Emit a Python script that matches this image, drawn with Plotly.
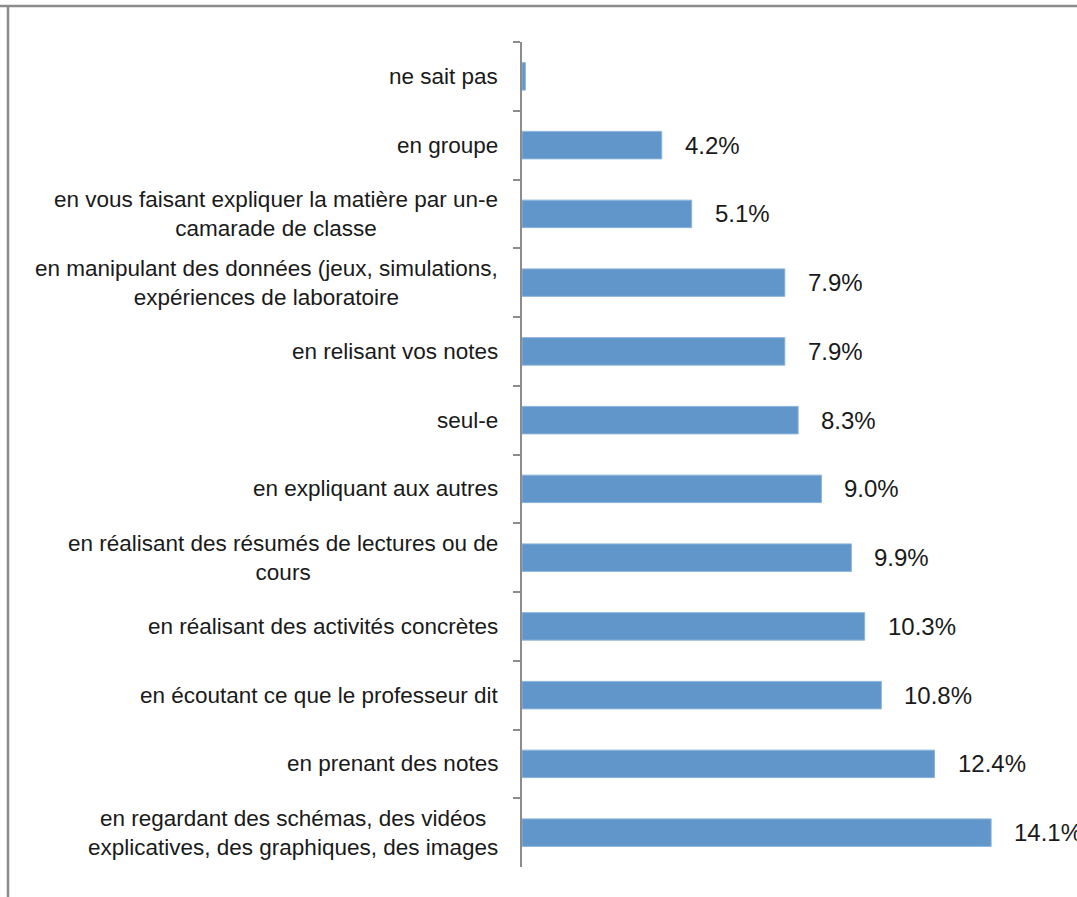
import plotly.graph_objects as go

categories = [
    "ne sait pas",
    "en groupe",
    "en vous faisant expliquer la matière par un-e<br>camarade de classe",
    "en manipulant des données (jeux, simulations,<br>expériences de laboratoire",
    "en relisant vos notes",
    "seul-e",
    "en expliquant aux autres",
    "en réalisant des résumés de lectures ou de<br>cours",
    "en réalisant des activités concrètes",
    "en écoutant ce que le professeur dit",
    "en prenant des notes",
    "en regardant des schémas, des vidéos<br>explicatives, des graphiques, des images",
]
values = [0.1, 4.2, 5.1, 7.9, 7.9, 8.3, 9.0, 9.9, 10.3, 10.8, 12.4, 14.1]
value_labels = ["", "4.2%", "5.1%", "7.9%", "7.9%", "8.3%", "9.0%", "9.9%",
                "10.3%", "10.8%", "12.4%", "14.1%"]

FONT = "Liberation Sans, Arial, sans-serif"
TXT = "#1a1a1a"
GRAY = "#8c8c8c"

fig = go.Figure(go.Bar(
    x=values, y=categories, orientation="h",
    marker=dict(color="#6096c9", line=dict(color="#8db4dc", width=1)),
    width=0.4, hoverinfo="skip",
))

ann = []
for c, v, lab in zip(categories, values, value_labels):
    ann.append(dict(x=0, xref="paper", y=c, yref="y", text=c, showarrow=False,
                    xanchor="right", yanchor="middle", align="center", xshift=-22,
                    font=dict(family=FONT, size=22.5, color=TXT)))
    if lab:
        ann.append(dict(x=v, xref="x", y=c, yref="y", text=lab, showarrow=False,
                        xanchor="left", yanchor="middle", xshift=21,
                        font=dict(family=FONT, size=24, color=TXT)))

fig.update_layout(
    width=1077, height=897,
    margin=dict(l=522, r=17, t=42, b=30),
    paper_bgcolor="white", plot_bgcolor="white",
    showlegend=False,
    annotations=ann,
    xaxis=dict(range=[0, 16.17], visible=False, fixedrange=True),
    yaxis=dict(type="category", autorange="reversed", showticklabels=False,
               tickson="boundaries", ticks="outside", ticklen=7, tickcolor=GRAY,
               tickwidth=1.5, showline=True, linecolor=GRAY, linewidth=1.5,
               showgrid=False, zeroline=False, fixedrange=True),
    shapes=[
        dict(type="line", xref="paper", yref="paper", x0=-522/538, x1=1.2,
             y0=1 + 36/825, y1=1 + 36/825, line=dict(color=GRAY, width=2.5)),
        dict(type="line", xref="paper", yref="paper", x0=-514/538, x1=-514/538,
             y0=1 + 36/825, y1=-0.2, line=dict(color=GRAY, width=2.5)),
    ],
)

fig.write_html("out.html", config={"displayModeBar": False},
               post_script="document.body.style.margin='0';")
